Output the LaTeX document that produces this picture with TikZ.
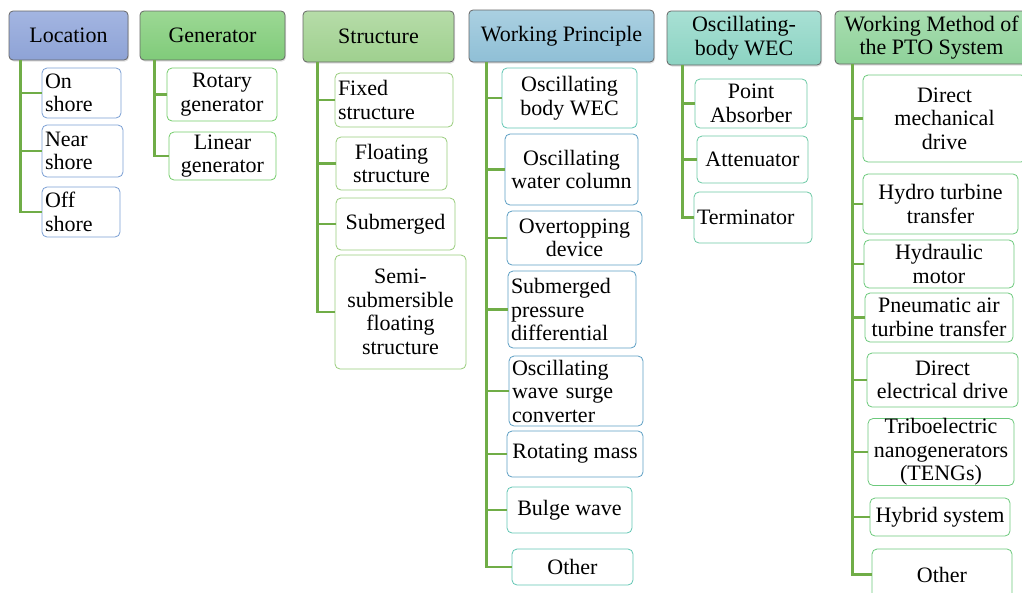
\documentclass[tikz,border=0pt]{standalone}
\usepackage{fontspec}
\setmainfont{Liberation Serif}
\usetikzlibrary{shadows}

\definecolor{branchgreen}{HTML}{70AD47}
\definecolor{locborder}{HTML}{7A9FD4}
\definecolor{genborder}{HTML}{74CC6A}
\definecolor{strborder}{HTML}{98CC7C}
\definecolor{wpteal}{HTML}{62C6B4}
\definecolor{wpblue}{HTML}{5D9FC4}
\definecolor{obwborder}{HTML}{6CC9A5}
\definecolor{ptoborder}{HTML}{6CC97C}

\begin{document}
\begin{tikzpicture}[x=1pt,y=-1pt,
    txt/.style={font=\fontsize{22}{23.5}\selectfont},
    wh/.style 2 args={minimum width=#1,minimum height=#2},
    header/.style={txt,rectangle,rounded corners=4pt,draw=black!60,line width=0.8pt,
      drop shadow={opacity=0.25,shadow xshift=1pt,shadow yshift=-1.5pt},
      inner sep=0pt,align=center},
    leaf/.style={txt,rectangle,rounded corners=5pt,draw=#1,fill=white,line width=0.8pt,
      inner sep=0pt,align=center},
    lleaf/.style={leaf=#1,align=left,inner xsep=3pt},
    branch/.style={draw=branchgreen,line width=2.6pt}]
  \path[use as bounding box] (0,0) rectangle (1022,592);
  \path
  % headers
  (68.5,35.5) node[header,wh={119pt}{49pt},
      top color={rgb,255:red,163;green,181;blue,225},bottom color={rgb,255:red,142;green,163;blue,214}] (loc) {Location}
  (212.5,35.5) node[header,wh={145pt}{49pt},
      top color={rgb,255:red,156;green,216;blue,148},bottom color={rgb,255:red,128;green,203;blue,122}] (gen) {Generator}
  (378.5,36.5) node[header,wh={151pt}{51pt},
      top color={rgb,255:red,182;green,220;blue,168},bottom color={rgb,255:red,159;green,208;blue,143}] (str) {Structure}
  (561.5,36) node[header,wh={185pt}{52pt},
      top color={rgb,255:red,170;green,208;blue,225},bottom color={rgb,255:red,143;green,191;blue,214}] (wp) {Working Principle}
  (744,38) node[header,wh={154pt}{54pt},
      top color={rgb,255:red,168;green,224;blue,212},bottom color={rgb,255:red,140;green,211;blue,194}] (obw) {Oscillating-\\body WEC}
  (931.5,37.5) node[header,wh={193pt}{53pt},
      top color={rgb,255:red,168;green,221;blue,176},bottom color={rgb,255:red,143;green,210;blue,154}] (pto) {Working Method of\\the PTO System}

  % location
  (81.5,93) node[lleaf=locborder,wh={79pt}{50pt},text width=73pt] (on) {On\\shore}
  (82.5,151) node[lleaf=locborder,wh={81pt}{52pt},text width=75pt] (near) {Near\\shore}
  (81,212) node[lleaf=locborder,wh={78pt}{50pt},text width=72pt] (off) {Off\\shore}

  % generator
  (222,94.5) node[leaf=genborder,wh={110pt}{53pt}] (rot) {Rotary\\generator}
  (222.5,156) node[leaf=genborder,wh={107pt}{48pt}] (lin) {Linear\\generator}

  % structure
  (394,100) node[lleaf=strborder,wh={118pt}{54pt},text width=112pt] (fix) {Fixed\\structure}
  (391.5,163.5) node[leaf=strborder,wh={111pt}{53pt}] (flo) {Floating\\structure}
  (395.5,224) node[leaf=strborder,wh={119pt}{52pt}] (sub) {Submerged}
  (400.5,312) node[leaf=strborder,wh={131pt}{114pt}] (semi) {Semi-\\submersible\\floating\\structure}

  % working principle
  (569.5,98) node[leaf=wpteal,wh={135pt}{60pt}] (obody) {Oscillating\\body WEC}
  (571.5,169.5) node[leaf=wpblue,wh={133pt}{71pt}] (owc) {Oscillating\\water column}
  (574.5,238) node[leaf=wpblue,wh={135pt}{54pt}] (over) {Overtopping\\device}
  (572,309.5) node[lleaf=wpblue,wh={128pt}{77pt},text width=122pt] (spd) {Submerged\\pressure\\differential}
  (576,391) node[lleaf=wpblue,wh={134pt}{70pt},text width=128pt] (owsc) {Oscillating\\wave surge\\converter}
  (575,454) node[leaf=wpblue,wh={136pt}{46pt}] (rmass) {Rotating mass}
  (569.5,510) node[leaf=wpteal,wh={125pt}{46pt}] (bulge) {Bulge wave}
  (572.5,567) node[leaf=wpteal,wh={121pt}{36pt}] (wpother) {Other}

  % oscillating-body WEC
  (751,103.5) node[leaf=obwborder,wh={112pt}{49pt}] (point) {Point\\Absorber}
  (752.5,159.5) node[leaf=obwborder,wh={111pt}{47pt}] (atten) {Attenuator}
  (753,217.5) node[lleaf=obwborder,wh={118pt}{51pt},text width=112pt] (term) {Terminator}

  % PTO system
  (944.5,118.5) node[leaf=ptoborder,wh={163pt}{87pt}] (dmd) {Direct\\mechanical\\drive}
  (940.5,204) node[leaf=ptoborder,wh={155pt}{60pt}] (hydro) {Hydro turbine\\transfer}
  (939,264) node[leaf=ptoborder,wh={150pt}{48pt}] (hmot) {Hydraulic\\motor}
  (939,317.5) node[leaf=ptoborder,wh={148pt}{49pt}] (pneu) {Pneumatic air\\turbine transfer}
  (942.5,380) node[leaf=ptoborder,wh={151pt}{54pt}] (dele) {Direct\\electrical drive}
  (941,452) node[leaf=ptoborder,wh={146pt}{64pt}] (tribo) {Triboelectric\\nanogenerators\\(TENGs)}
  (940,517) node[leaf=ptoborder,wh={140pt}{38pt}] (hyb) {Hybrid system}
  (942,574.5) node[leaf=ptoborder,wh={140pt}{51pt}] (ptoother) {Other}
  ;

  \draw[branch] ([xshift=12pt]loc.south west) |- (on.west)
    ([xshift=12pt]loc.south west) |- (near.west)
    ([xshift=12pt]loc.south west) |- (off.west);
  \draw[branch] ([xshift=15pt]gen.south west) |- (rot.west)
    ([xshift=15pt]gen.south west) |- (lin.west);
  \draw[branch] ([xshift=15pt]str.south west) |- (fix.west)
    ([xshift=15pt]str.south west) |- (flo.west)
    ([xshift=15pt]str.south west) |- (sub.west)
    ([xshift=15pt]str.south west) |- (semi.west);
  \draw[branch] ([xshift=18pt]wp.south west) |- (obody.west)
    ([xshift=18pt]wp.south west) |- (owc.west)
    ([xshift=18pt]wp.south west) |- (over.west)
    ([xshift=18pt]wp.south west) |- (spd.west)
    ([xshift=18pt]wp.south west) |- (owsc.west)
    ([xshift=18pt]wp.south west) |- (rmass.west)
    ([xshift=18pt]wp.south west) |- (bulge.west)
    ([xshift=18pt]wp.south west) |- (wpother.west);
  \draw[branch] ([xshift=16pt]obw.south west) |- (point.west)
    ([xshift=16pt]obw.south west) |- (atten.west)
    ([xshift=16pt]obw.south west) |- (term.west);
  \draw[branch] ([xshift=18pt]pto.south west) |- (dmd.west)
    ([xshift=18pt]pto.south west) |- (hydro.west)
    ([xshift=18pt]pto.south west) |- (hmot.west)
    ([xshift=18pt]pto.south west) |- (pneu.west)
    ([xshift=18pt]pto.south west) |- (dele.west)
    ([xshift=18pt]pto.south west) |- (tribo.west)
    ([xshift=18pt]pto.south west) |- (hyb.west)
    ([xshift=18pt]pto.south west) |- (ptoother.west);
\end{tikzpicture}
\end{document}
